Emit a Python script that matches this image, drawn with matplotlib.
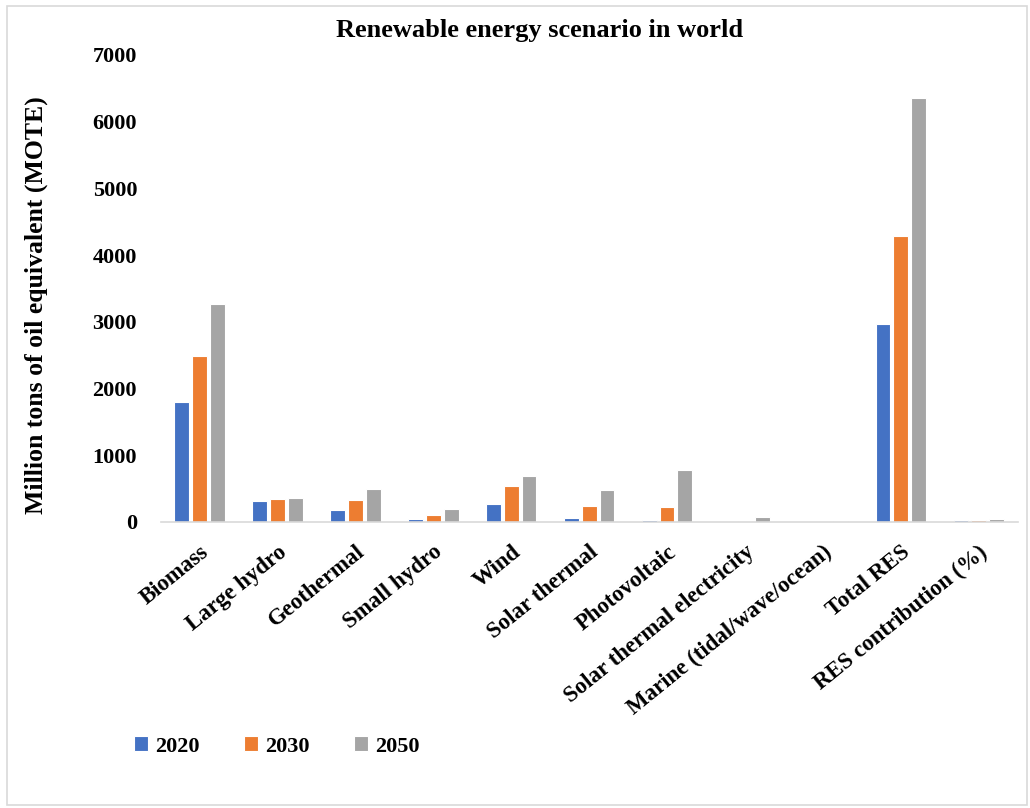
import numpy as np
import matplotlib
matplotlib.use("Agg")
import matplotlib.pyplot as plt
from matplotlib.patches import Rectangle

plt.rcParams["font.family"] = ["Liberation Serif", "DejaVu Serif"]
plt.rcParams["font.weight"] = "bold"

categories = ["Biomass", "Large hydro", "Geothermal", "Small hydro", "Wind",
              "Solar thermal", "Photovoltaic", "Solar thermal electricity",
              "Marine (tidal/wave/ocean)", "Total RES", "RES contribution (%)"]
years = ["2020", "2030", "2050"]
v2020 = [1791, 309, 186, 49, 266, 66, 24, 3, 0.4, 2964.4, 25.9]
v2030 = [2483, 341, 333, 106, 542, 244, 221, 16, 3, 4289, 34.7]
v2050 = [3271, 358, 493, 189, 688, 480, 784, 68, 20, 6351, 47.7]
colors = ["#4472C4", "#ED7D31", "#A5A5A5"]

fig = plt.figure(figsize=(10.3, 8.08), dpi=100)
ax = fig.add_axes([0.156, 0.354, 0.832, 0.578])

x = np.arange(len(categories))
step, width = 0.228, 0.19
for k, (vals, col, lab) in enumerate(zip([v2020, v2030, v2050], colors, years)):
    ax.bar(x + (k - 1) * step, vals, width, color=col, edgecolor="white",
           linewidth=0.8, label=lab)

ax.set_xlim(-0.5, len(categories) - 0.5)
ax.set_ylim(0, 7000)
ax.set_yticks(np.arange(0, 7001, 1000))
ax.set_xticks(x)
ax.set_xticklabels(categories, rotation=39, ha="right", rotation_mode="anchor",
                   fontsize=16.5, fontweight="bold")
ax.tick_params(axis="y", labelsize=16, length=0, pad=17)
ax.tick_params(axis="x", length=0, pad=14)
for s in ["top", "right", "left"]:
    ax.spines[s].set_visible(False)
ax.spines["bottom"].set_color("#D9D9D9")
ax.spines["bottom"].set_linewidth(1.2)

ax.set_ylabel("Million tons of oil equivalent (MOTE)", fontsize=18.5,
              fontweight="bold")
ax.yaxis.set_label_coords(-0.132, 0.465)
fig.text(0.524, 0.962, "Renewable energy scenario in world", ha="center",
         va="center", fontsize=19, fontweight="bold")

fig.legend(loc="center left", bbox_to_anchor=(0.13, 0.076), ncol=3,
           frameon=False, fontsize=16, handlelength=0.65, handleheight=0.65,
           columnspacing=2.0, handletextpad=0.3, borderaxespad=0, borderpad=0)

fig.patches.append(Rectangle((0.007, 0.004), 0.99, 0.989, transform=fig.transFigure,
                             fill=False, edgecolor="#D9D9D9", linewidth=1.2))

fig.savefig("out.png", dpi=100)
